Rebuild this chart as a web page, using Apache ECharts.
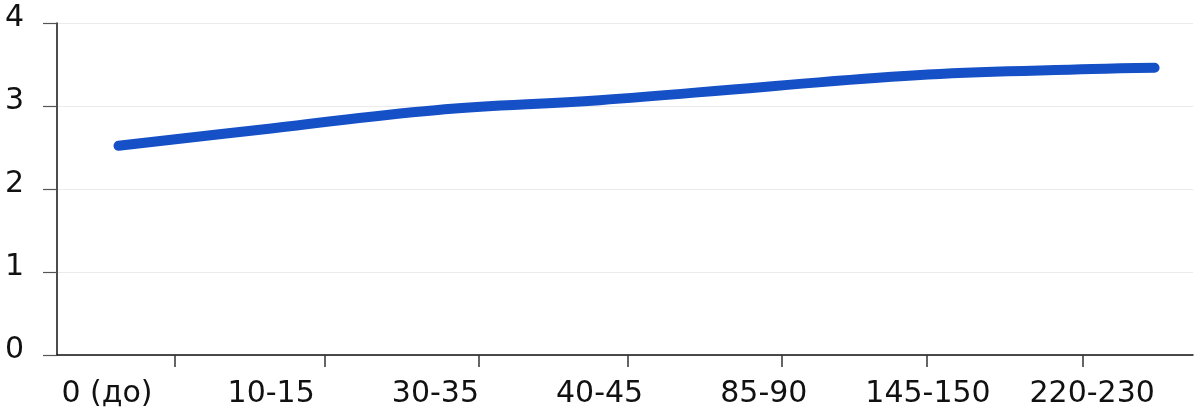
<!DOCTYPE html>
<html>
<head>
<meta charset="utf-8">
<script src="https://cdn.jsdelivr.net/npm/echarts@6/dist/echarts.min.js"></script>
<style>
  html, body { margin: 0; padding: 0; background: #fff; }
  #chart { width: 1200px; height: 417px; }
</style>
</head>
<body>
<div id="chart"></div>
<script>
// category labels sit at positions 0..6 on the x scale
const categories = ['0 (до)', '10-15', '30-35', '40-45', '85-90', '145-150', '220-230'];
const labelPos = [0, 1, 2, 3, 4, 5, 6];
// tick marks on the x axis (between labels, as in the picture)
const tickPos = [0.414, 1.328, 2.266, 3.173, 4.111, 4.994, 5.944];
// line: x position and value
const lineX = [0.07, 1, 2, 3, 4, 5, 6, 6.38];
const lineY = [2.52, 2.73, 2.95, 3.07, 3.23, 3.38, 3.445, 3.46];
const yTicks = [0, 1, 2, 3, 4];

const myChart = echarts.init(document.getElementById('chart'));

const font = 'DejaVu Sans';

const option = {
  animation: false,
  grid: {
    left: 57,
    right: 7,
    top: 23,
    bottom: 62,
    outerBoundsMode: 'none'
  },
  xAxis: {
    type: 'value',
    min: -0.3045,
    max: 6.614,
    splitLine: { show: false },
    axisLine: { show: true, onZero: false, lineStyle: { color: '#111', width: 1.5 } },
    axisTick: {
      show: true,
      customValues: tickPos,
      length: 12,
      lineStyle: { color: '#333', width: 1.5 }
    },
    axisLabel: {
      customValues: labelPos,
      formatter: function (v) {
        return categories[Math.round(v)];
      },
      margin: 24,
      fontFamily: font,
      fontSize: 30,
      color: '#111'
    }
  },
  yAxis: {
    type: 'value',
    min: 0,
    max: 4,
    interval: 1,
    axisLine: { show: true, onZero: false, lineStyle: { color: '#111', width: 1.5 } },
    axisTick: { show: true, length: 14, lineStyle: { color: '#555', width: 1.2 } },
    splitLine: { show: true, lineStyle: { color: '#ebebeb', width: 1 } },
    axisLabel: {
      formatter: function (v) {
        return yTicks.indexOf(v) >= 0 ? String(v) : '';
      },
      align: 'left',
      verticalAlign: 'bottom',
      lineHeight: 10,
      margin: 52,
      fontFamily: font,
      fontSize: 30,
      color: '#111'
    }
  },
  series: [
    {
      type: 'line',
      data: lineX.map(function (x, i) { return [x, lineY[i]]; }),
      smooth: 0.4,
      showSymbol: false,
      lineStyle: { color: '#1650c6', width: 10, cap: 'round', join: 'round' }
    }
  ]
};

option && myChart.setOption(option);
</script>
</body>
</html>
